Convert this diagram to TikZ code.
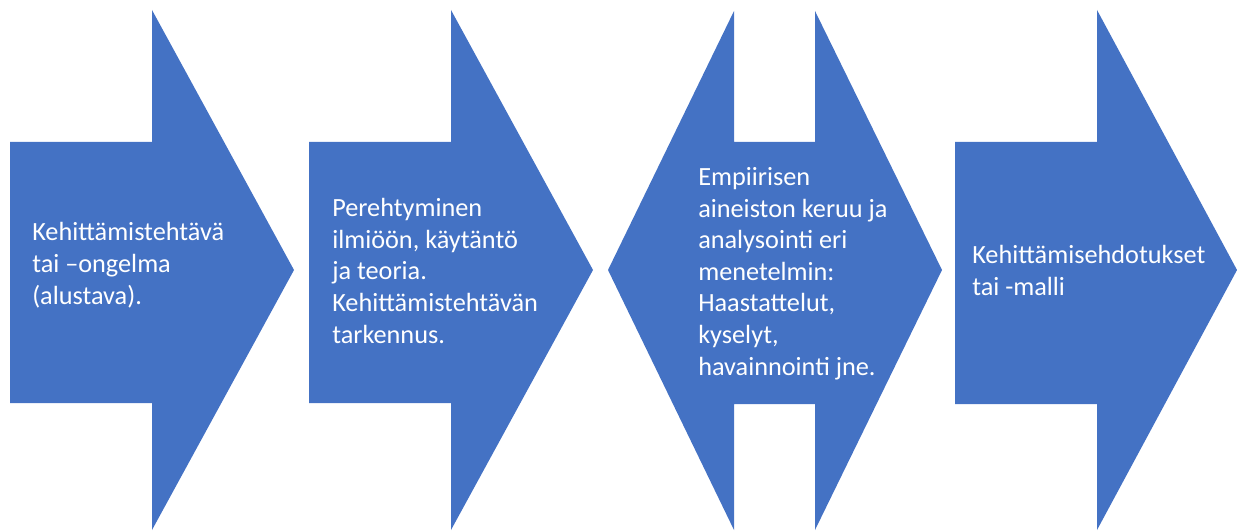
\documentclass[tikz,border=0pt]{standalone}
\usepackage{fontspec}
\setmainfont{Carlito}
\definecolor{arrowblue}{HTML}{4472C4}
\tikzset{
  arrowshape/.style={fill=arrowblue, draw=none},
  label/.style={text=white, anchor=base west, align=left, inner sep=0pt,
    font=\fontsize{19.7pt}{23.7pt}\selectfont}
}
\begin{document}
\begin{tikzpicture}[x=0.75pt, y=-0.75pt]
\useasboundingbox (0,0) rectangle (1237,531);
% arrow 1
\fill[arrowshape] (10,142) -- (152,142) -- (152,10) -- (294,270) -- (152,530) -- (152,403) -- (10,403) -- cycle;
% arrow 2
\fill[arrowshape] (309,142) -- (451,142) -- (451,10) -- (593,270) -- (451,530) -- (451,403) -- (309,403) -- cycle;
% double arrow
\fill[arrowshape] (608,270) -- (734,11) -- (734,142) -- (815,142) -- (815,11) -- (942,270) -- (815,530) -- (815,404) -- (734,404) -- (734,530) -- cycle;
% arrow 4
\fill[arrowshape] (955,142) -- (1097,142) -- (1097,10) -- (1237,270) -- (1097,530) -- (1097,404) -- (955,404) -- cycle;
% texts (anchor at baseline of last line)
\node[label] (t1) at (32,304) {Kehittämistehtävä\\tai –ongelma\\(alustava).};
\node[label] (t2) at (332,343) {Perehtyminen\\ilmiöön, käytäntö\\ja teoria.\\Kehittämistehtävän\\tarkennus.};
\node[label] (t3) at (698,375) {Empiirisen\\aineiston keruu ja\\analysointi eri\\menetelmin:\\Haastattelut,\\kyselyt,\\havainnointi jne.};
\node[label] (t4) at (972,295) {Kehittämisehdotukset\\tai -malli};
\end{tikzpicture}
\end{document}
